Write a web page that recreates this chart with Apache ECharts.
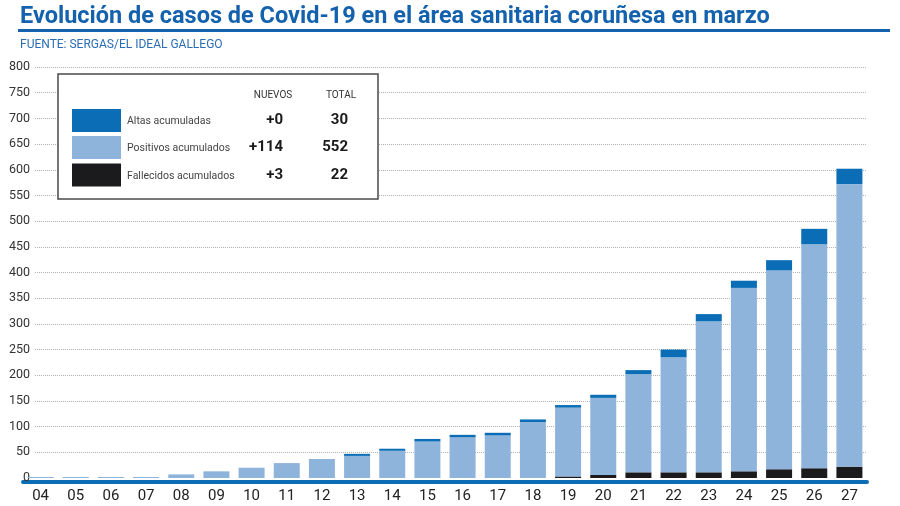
<!DOCTYPE html>
<html>
<head>
<meta charset="utf-8">
<script src="https://cdn.jsdelivr.net/npm/echarts@6/dist/echarts.min.js"></script>
<style>
html,body{margin:0;padding:0;background:#fff;}
#chart{width:900px;height:506px;}
</style>
</head>
<body>
<div id="chart"></div>
<script>
// ---- data ----
const days = ['04','05','06','07','08','09','10','11','12','13','14','15','16','17','18','19','20','21','22','23','24','25','26','27'];
const fallecidos = [0,0,0,0,0,0,0,0,0,0,0,0,0,0,0,3,6,11,11,11,13,17,19,22];
const positivos  = [2,2,2,2,7,13,20,29,37,43,53,71,79,83,109,134,150,191,224,294,357,387,436,550];
const altas      = [0,0,0,0,0,0,0,0,0,4,4,5,5,5,5,5,6,8,15,14,14,20,30,30];
const yTicks = [0,50,100,150,200,250,300,350,400,450,500,550,600,650,700,750,800];

const legendNames = ['Altas acumuladas','Positivos acumulados','Fallecidos acumulados'];
const legendNuevos = ['+0','+114','+3'];
const legendTotal = ['30','552','22'];
const headNuevos = 'NUEVOS';
const headTotal = 'TOTAL';

const titleText = 'Evolución de casos de Covid-19 en el área sanitaria coruñesa en marzo';
const sourceText = 'FUENTE: SERGAS/EL IDEAL GALLEGO';

const C_ALTAS = '#0a6db6';
const C_POS = '#8fb4dc';
const C_FALL = '#1b1a1c';
const C_TITLE = '#1462ae';
const FONT = 'Roboto, "Noto Sans", sans-serif';

const chart = echarts.init(document.getElementById('chart'));

// legend box graphics
const box = {x:58, y:74, w:320, h:125};
const rowY = [120.5, 147.5, 175];
const swatchColors = [C_ALTAS, C_POS, C_FALL];
const legendGraphics = [
  {type:'rect', z:100, shape:{x:box.x, y:box.y, width:box.w, height:box.h},
   style:{fill:'#fff', stroke:'#4a4a4a', lineWidth:1.5}},
  {type:'text', z:101, x:273, y:95, style:{text:headNuevos, fill:'#333', font:'10px '+FONT, textAlign:'center', textVerticalAlign:'middle'}},
  {type:'text', z:101, x:341, y:95, style:{text:headTotal, fill:'#333', font:'10px '+FONT, textAlign:'center', textVerticalAlign:'middle'}}
];
legendNames.forEach((n,i)=>{
  legendGraphics.push({type:'rect', z:101, shape:{x:72, y:rowY[i]-11.5, width:49, height:23}, style:{fill:swatchColors[i]}});
  legendGraphics.push({type:'text', z:101, x:127, y:rowY[i]+1, style:{text:n, fill:'#444', font:'10.5px '+FONT, textVerticalAlign:'middle'}});
  legendGraphics.push({type:'text', z:101, x:283, y:rowY[i], style:{text:legendNuevos[i], fill:'#1a1a1a', font:'bold 15px '+FONT, textAlign:'right', textVerticalAlign:'middle'}});
  legendGraphics.push({type:'text', z:101, x:348, y:rowY[i], style:{text:legendTotal[i], fill:'#1a1a1a', font:'bold 15px '+FONT, textAlign:'right', textVerticalAlign:'middle'}});
});

const option = {
  animation: false,
  backgroundColor: '#fff',
  title: [
    {text: titleText, left: 15, top: 0, textStyle:{fontFamily:FONT, fontSize:23.5, fontWeight:'bold', color:C_TITLE}},
    {text: sourceText, left: 15, top: 34, textStyle:{fontFamily:FONT, fontSize:12, fontWeight:'normal', color:'#2a6db5'}}
  ],
  grid: [
    {left:23, right:33, top:67, bottom:28},
    {left:35, right:33, top:67, bottom:28}
  ],
  xAxis: [
    {type:'category', gridIndex:0, data:days,
     axisLine:{show:true, onZero:false, lineStyle:{color:'#0a6db6', width:4}},
     offset:4,
     axisTick:{show:false},
     axisLabel:{color:'#222', fontFamily:FONT, fontSize:15, margin:7}},
    {type:'value', gridIndex:1, show:false, min:0, max:1}
  ],
  yAxis: [
    {type:'value', gridIndex:0, min:0, max:800, interval:50, show:false, splitLine:{show:false}},
    {type:'value', gridIndex:1, min:0, max:800, interval:50,
     axisLine:{show:false}, axisTick:{show:false},
     axisLabel:{color:'#333', fontFamily:FONT, fontSize:12.5, margin:5},
     splitLine:{show:true, showMinLine:false, lineStyle:{color:'#b0b0b0', type:[1,1], width:1}}}
  ],
  series: [
    {name:legendNames[2], type:'bar', stack:'s', xAxisIndex:0, yAxisIndex:0, data:fallecidos, barWidth:26, itemStyle:{color:C_FALL}, z:3},
    {name:legendNames[1], type:'bar', stack:'s', xAxisIndex:0, yAxisIndex:0, data:positivos, barWidth:26, itemStyle:{color:C_POS}, z:3},
    {name:legendNames[0], type:'bar', stack:'s', xAxisIndex:0, yAxisIndex:0, data:altas, barWidth:26, itemStyle:{color:C_ALTAS}, z:3}
  ],
  graphic: [
    {type:'rect', z:50, shape:{x:18, y:29, width:872, height:3}, style:{fill:C_TITLE}}
  ].concat(legendGraphics)
};
chart.setOption(option);
</script>
</body>
</html>
